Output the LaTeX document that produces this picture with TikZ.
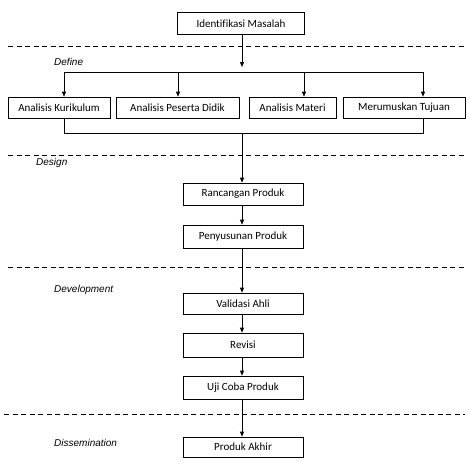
\documentclass[tikz,border=0pt]{standalone}
\usepackage{fontspec}
\setmainfont[Ligatures=NoCommon]{Carlito}
\newfontfamily\labelfont{Liberation Sans}
\usetikzlibrary{arrows.meta}
\begin{document}
\begin{tikzpicture}[x=1pt,y=-1pt,
  box/.style={draw, line width=0.7pt, inner sep=0pt, minimum height=22pt,
    font=\fontsize{11}{12}\selectfont},
  mainbox/.style={box, minimum width=120pt},
  phase/.style={anchor=west, inner sep=0pt, font=\labelfont\itshape\fontsize{10}{12}\selectfont},
  sep/.style={line width=0.7pt, dash pattern=on 5pt off 3.5pt},
  conn/.style={line width=0.7pt},
  arr/.style={conn, -{Triangle[length=5pt,width=4pt]}}]
\useasboundingbox (0,0) rectangle (471,464);

% phase separators
\draw[sep] (8,46) -- (465,46);
\draw[sep] (8,155) -- (465,155);
\draw[sep] (8,267) -- (465,267);
\draw[sep] (4,414) -- (465,414);

% phase labels
\node[phase] (ldef) at (54,62) {Define};
\node[phase] (ldes) at (36,163) {Design};
\node[phase] (ldev) at (54,290) {Development};
\node[phase] (ldis) at (54,443) {Dissemination};

% boxes
\node[box, minimum width=127pt] (id) at (241,23.5) {Identifikasi Masalah};
\node[box, minimum width=102pt, minimum height=21pt] (ak) at (59,107.5) {Analisis Kurikulum};
\node[box, minimum width=123pt, minimum height=21pt] (apd) at (177.5,107.5) {Analisis Peserta Didik};
\node[box, minimum width=87pt, minimum height=21pt] (am) at (292.5,107.5) {Analisis Materi};
\node[box, minimum width=122pt, minimum height=21pt] (mt) at (404,107.5) {Merumuskan Tujuan};

\node[mainbox] (rp) at (243,194) {Rancangan Produk};
\node[mainbox, minimum height=23pt] (pp) at (243,236.5) {Penyusunan Produk};
\node[mainbox, minimum height=21pt] (va) at (243,303.5) {Validasi Ahli};
\node[mainbox, minimum height=24pt] (rv) at (243,345) {Revisi};
\node[mainbox, minimum height=23pt] (uc) at (243,387.5) {Uji Coba Produk};
\node[mainbox, minimum height=20pt] (pa) at (243,447) {Produk Akhir};

% split bar
\coordinate (tip) at (242,67);
\coordinate (b1) at (64,72);
\coordinate (b2) at (178,72);
\coordinate (b3) at (304,72);
\coordinate (b4) at (423,72);
\draw[arr] (id.south -| tip) -- (tip);
\draw[conn] (b1) -- (b4);
\draw[arr] (b1) -- (b1 |- ak.north);
\draw[arr] (b2) -- (b2 |- apd.north);
\draw[arr] (b3) -- (b3 |- am.north);
\draw[arr] (b4) -- (b4 |- mt.north);

% merge bar
\coordinate (m1) at (64,133);
\coordinate (m4) at (423,133);
\coordinate (mc) at (242,133);
\draw[conn] (m1 |- ak.south) -- (m1) -- (m4) -- (m4 |- mt.south);
\draw[arr] (mc) -- (mc |- rp.north);

% spine
\draw[arr] (rp.south -| mc) -- (pp.north -| mc);
\draw[arr] (pp.south -| mc) -- (va.north -| mc);
\draw[arr] (va.south -| mc) -- (rv.north -| mc);
\draw[arr] (rv.south -| mc) -- (uc.north -| mc);
\draw[arr] (uc.south -| mc) -- (pa.north -| mc);
\end{tikzpicture}
\end{document}
